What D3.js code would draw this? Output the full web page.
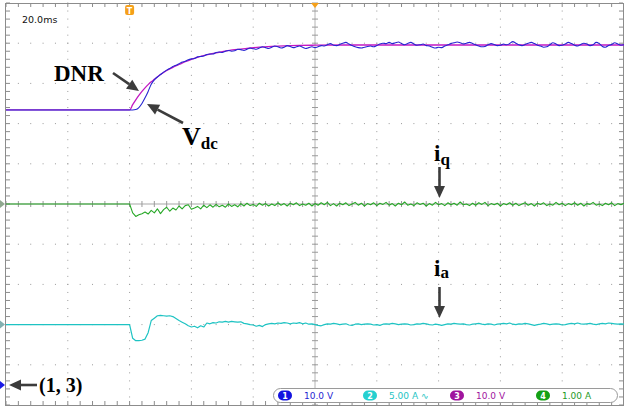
<!DOCTYPE html>
<html><head><meta charset="utf-8">
<script src="https://cdn.jsdelivr.net/npm/d3@7"></script>
<style>html,body{margin:0;padding:0;background:#fff;overflow:hidden}</style>
</head><body><svg id="c" width="624" height="409"></svg>
<script>
// ---------- data ----------
// time axis (ms): one point before the trigger, then 1 ms samples
const timeMs = [-100].concat(d3.range(-60, 101));
const timeDivTicks = [-100, -80, -60, -40, -20, 0, 20, 40, 60, 80, 100];
const vertDivTicks = [-5, -4, -3, -2, -1, 0, 1, 2, 3, 4, 5];

// Ch1 : Vdc (V), 10 V/div
const vdc = [68.4,
 68.4,68.4,68.5,69.0,70.0,71.4,73.0,74.8,75.9,76.6,
 77.2,77.8,78.3,78.7,79.2,79.5,79.9,80.3,80.5,80.9,
 81.1,81.2,81.6,81.7,81.8,82.2,82.3,82.3,82.7,82.8,
 82.7,83.0,83.2,83.0,83.1,83.5,83.4,83.2,83.5,83.8,
 83.6,83.5,83.8,84.1,83.9,83.7,84.0,84.3,84.1,83.8,
 84.0,84.4,84.2,83.9,84.1,84.3,84.0,83.7,83.9,84.1,
 83.9,84.1,84.4,84.3,84.6,84.9,84.5,84.4,84.7,85.0,
 85.2,84.8,84.4,84.1,83.9,83.8,84.0,84.2,84.3,84.1,
 84.4,84.8,85.0,84.9,85.2,84.9,85.1,85.3,84.9,84.6,
 84.9,85.2,84.8,84.5,84.6,84.8,84.4,84.3,84.0,83.8,
 84.0,83.9,84.3,84.6,84.9,85.1,85.3,85.1,84.8,85.0,
 85.2,84.9,84.6,84.3,84.1,84.2,84.6,84.9,84.7,84.4,
 84.5,84.8,84.6,84.9,85.4,85.0,84.6,84.4,84.7,85.0,
 85.2,84.9,84.5,84.3,84.0,84.1,84.6,85.1,84.8,84.4,
 84.5,84.8,85.2,84.9,84.5,84.3,84.7,85.0,84.8,84.4,
 84.6,85.2,84.9,84.2,84.0,84.4,84.7,85.1,84.8,84.5,
 84.6];

// Ch3 : DNR estimate (V), 10 V/div (smooth)
const dnrTime = [-100,-60,-59,-58,-57,-56,-55,-54,-53,-52,-50,-48,-46,-44,-42,-40,-37,-34,-30,-26,-22,-18,-14,-10,-5,0,10,100];
const dnrV    = [68.4,68.4,69.7,70.9,72.0,73.0,73.9,74.7,75.4,76.0,77.2,78.2,79.0,79.7,80.4,81.0,81.7,82.3,82.9,83.4,83.7,84.0,84.2,84.35,84.45,84.5,84.55,84.55];

// Ch4 : iq (A), 1 A/div
const iq = [0,
 0,-0.22,-0.31,-0.27,-0.24,-0.20,-0.25,-0.16,-0.22,-0.12,
 -0.24,-0.14,-0.08,-0.18,-0.10,-0.15,-0.05,-0.12,-0.04,-0.02,
 -0.13,-0.10,-0.06,-0.12,-0.03,-0.09,-0.02,-0.08,-0.01,-0.07,
 -0.03,-0.08,0.0,-0.06,-0.02,-0.07,0.01,-0.05,0.02,-0.04,
 -0.01,-0.06,0.02,-0.03,0.01,-0.05,0.0,-0.04,0.03,-0.03,
 0.01,-0.05,0.02,-0.02,0.03,-0.04,0.0,-0.03,0.02,-0.05,
 0.01,-0.03,0.03,-0.02,0.04,-0.04,0.01,-0.05,0.02,-0.02,
 0.03,-0.04,0.0,0.04,-0.03,0.02,-0.05,0.01,-0.02,0.03,
 -0.04,0.02,-0.01,0.04,-0.03,0.01,-0.05,0.02,-0.02,0.05,
 -0.03,0.0,-0.04,0.03,-0.01,0.02,-0.05,0.01,-0.03,0.04,
 -0.02,0.01,-0.04,0.03,-0.02,0.02,-0.03,0.05,-0.02,0.0,
 -0.04,0.02,-0.03,0.03,-0.01,0.04,-0.04,0.01,-0.02,0.02,
 -0.05,0.01,-0.02,0.03,-0.03,0.02,-0.04,0.0,0.03,-0.03,
 0.01,-0.05,0.02,-0.01,0.03,-0.04,0.0,-0.03,0.04,-0.02,
 0.02,-0.04,0.01,-0.02,0.03,-0.03,0.02,-0.05,0.01,-0.01,
 0.04,-0.03,0.0,-0.04,0.02,-0.02,0.03,-0.04,0.01,-0.02,
 0.02];

// Ch2 : ia (A), 5 A/div
const ia = [0,
 0,-1.7,-2.0,-2.0,-1.95,-1.8,-1.0,0.5,0.8,1.1,
 1.15,1.1,1.05,1.1,1.0,0.75,0.5,0.3,0.1,-0.15,
 -0.3,-0.2,-0.4,-0.15,-0.3,0.2,0.1,0.25,0.2,0.35,
 0.3,0.4,0.3,0.4,0.35,0.3,0.35,0.15,0.1,0.0,
 -0.05,-0.2,-0.1,-0.25,0.0,0.1,0.15,0.1,0.2,0.15,
 0.25,0.2,0.1,0.2,0.15,0.25,0.1,0.2,0.05,0.1,
 0.0,-0.1,-0.15,0.0,0.1,0.05,0.15,0.1,0.0,0.05,
 0.1,-0.05,-0.1,0.05,0.1,0.0,0.05,0.1,0.05,-0.05,
 0.0,-0.1,0.05,0.1,0.05,0.15,0.1,0.0,0.05,0.1,
 0.05,-0.05,0.0,0.1,0.05,0.15,0.1,0.0,-0.05,0.05,
 0.0,-0.1,0.0,0.1,0.05,0.15,0.1,0.05,0.1,0.0,
 -0.05,0.05,0.1,0.15,0.05,0.0,0.1,0.05,-0.05,0.05,
 0.1,0.15,0.1,0.2,0.05,0.0,0.1,0.05,0.15,0.1,
 0.0,-0.1,0.0,0.05,0.15,0.1,0.0,0.05,0.1,0.05,
 -0.05,0.0,0.1,0.15,0.1,0.2,0.1,0.05,0.1,0.15,
 0.05,0.0,0.1,0.15,0.1,0.2,0.15,0.1,0.05,0.1,
 0.05];

const legendNums  = ["1", "2", "3", "4"];
const legendTexts = ["10.0 V", "5.00 A \u223F", "10.0 V", "1.00 A"];
const timebaseLabel = "20.0ms";

// ---------- scales ----------
const L = 6, R = 624, T = 3, B = 405;
const x = d3.scaleLinear().domain([-100, 100]).range([L, R]);
const yDiv = d3.scaleLinear().domain([-5, 5]).range([B, T]);
const yCh1 = d3.scaleLinear().domain([-5, 95]).range([B, T]);   // ground at -4.5 div
const yCh3 = yCh1;
const yCh2 = d3.scaleLinear().domain([-10, 40]).range([B, T]);  // ground at -3 div
const yCh4 = d3.scaleLinear().domain([-5, 5]).range([B, T]);    // ground at 0 div

const col = {c1: "#2626d2", c2: "#1ec3c3", c3: "#c218c2", c4: "#27a827"};

const svg = d3.select("#c");
svg.append("rect").attr("width", 624).attr("height", 409).attr("fill", "#fff");

// ---------- graticule ----------
const g = svg.append("g");
const minorT = d3.range(-100, 100.01, 4);
const minorV = d3.range(-5, 5.001, 0.2);
timeDivTicks.slice(1, -1).forEach(t => {
  if (t === 0) return;
  minorV.forEach(v => g.append("rect").attr("x", x(t) - 0.5).attr("y", yDiv(v) - 0.5)
    .attr("width", 1).attr("height", 1).attr("fill", "#9a9a9a"));
});
vertDivTicks.slice(1, -1).forEach(v => {
  if (v === 0) return;
  minorT.forEach(t => g.append("rect").attr("x", x(t) - 0.5).attr("y", yDiv(v) - 0.5)
    .attr("width", 1).attr("height", 1).attr("fill", "#9a9a9a"));
});
g.append("line").attr("x1", x(0)).attr("x2", x(0)).attr("y1", T).attr("y2", B)
  .attr("stroke", "#b4b4b4").attr("stroke-width", 1);
g.append("line").attr("x1", L).attr("x2", R).attr("y1", yDiv(0)).attr("y2", yDiv(0))
  .attr("stroke", "#c4c4c4").attr("stroke-width", 1.5);
minorV.forEach(v => g.append("line").attr("x1", x(0) - 3).attr("x2", x(0) + 3)
  .attr("y1", yDiv(v)).attr("y2", yDiv(v)).attr("stroke", "#9a9a9a"));
minorT.forEach(t => g.append("line").attr("x1", x(t)).attr("x2", x(t))
  .attr("y1", yDiv(0) - 3).attr("y2", yDiv(0) + 3).attr("stroke", "#9a9a9a"));
g.append("rect").attr("x", L - 0.5).attr("y", T + 0.5).attr("width", R - L).attr("height", B - T)
  .attr("fill", "none").attr("stroke", "#8c8c8c").attr("stroke-width", 1);
minorV.forEach(v => {
  g.append("line").attr("x1", L).attr("x2", L + 4).attr("y1", yDiv(v)).attr("y2", yDiv(v)).attr("stroke", "#8c8c8c");
  g.append("line").attr("x1", R - 5).attr("x2", R - 1).attr("y1", yDiv(v)).attr("y2", yDiv(v)).attr("stroke", "#8c8c8c");
});
minorT.forEach(t => {
  g.append("line").attr("x1", x(t)).attr("x2", x(t)).attr("y1", T).attr("y2", T + 4).attr("stroke", "#8c8c8c");
  g.append("line").attr("x1", x(t)).attr("x2", x(t)).attr("y1", B - 4).attr("y2", B).attr("stroke", "#8c8c8c");
});

// ---------- traces ----------
const tr = svg.append("g").attr("fill", "none").attr("stroke-linejoin", "round");
function trace(times, vals, ys, color, w, curve) {
  const line = d3.line().x((d, i) => x(times[i])).y(d => ys(d)).curve(curve || d3.curveLinear);
  tr.append("path").datum(vals).attr("d", line).attr("stroke", color).attr("stroke-width", w);
}
trace(timeMs, ia, yCh2, col.c2, 1.2);
trace(timeMs, iq, yCh4, col.c4, 1.1);
trace(dnrTime, dnrV, yCh3, col.c3, 1.3, d3.curveMonotoneX);
trace(timeMs, vdc, yCh1, col.c1, 1.1, d3.curveMonotoneX);

// ---------- markers ----------
const trg = svg.append("g").attr("transform", `translate(${x(-60)},0)`);
trg.append("rect").attr("x", -4.5).attr("y", 5).attr("width", 9).attr("height", 10).attr("rx", 2).attr("fill", "#f5a01a");
trg.append("text").attr("x", 0).attr("y", 13.5).attr("text-anchor", "middle").attr("fill", "#fff")
  .attr("font-family", "DejaVu Sans").attr("font-size", 8).attr("font-weight", "bold").text("T");
svg.append("path").attr("d", `M${x(0) - 4},${T}L${x(0) + 4},${T}L${x(0)},${T + 5}Z`).attr("fill", "#f5a01a");
svg.append("path").attr("d", `M0,${yCh4(0) - 4}L5,${yCh4(0)}L0,${yCh4(0) + 4}Z`).attr("fill", "#8fa88f");
svg.append("path").attr("d", `M0,${yCh2(0) - 4}L5,${yCh2(0)}L0,${yCh2(0) + 4}Z`).attr("fill", "#83b0b0");
svg.append("path").attr("d", `M0,${yCh1(0) - 4}L5,${yCh1(0)}L0,${yCh1(0) + 4}Z`).attr("fill", "#1a1ae6");

svg.append("text").attr("x", 22).attr("y", 23).attr("font-family", "DejaVu Sans").attr("font-size", 9.5)
  .attr("fill", "#111").text(timebaseLabel);

// ---------- annotations ----------
const ann = svg.append("g").attr("font-family", "Liberation Serif, Times New Roman, serif").attr("font-weight", "bold").attr("fill", "#000");
function arrow(x1, y1, x2, y2) {
  const a = Math.atan2(y2 - y1, x2 - x1), hl = 12, hw = 5.5;
  const bx = x2 - hl * Math.cos(a), by = y2 - hl * Math.sin(a);
  ann.append("line").attr("x1", x1).attr("y1", y1).attr("x2", bx).attr("y2", by)
    .attr("stroke", "#3c3c3c").attr("stroke-width", 2.6);
  ann.append("path").attr("d", `M${x2},${y2}L${bx - hw * Math.sin(a)},${by + hw * Math.cos(a)}L${bx + hw * Math.sin(a)},${by - hw * Math.cos(a)}Z`)
    .attr("fill", "#3c3c3c");
}
ann.append("text").attr("x", 54).attr("y", 81).attr("font-size", 23).text("DNR");
arrow(113, 73, 139, 91);
const vt = ann.append("text").attr("x", 182).attr("y", 145).attr("font-size", 26);
vt.append("tspan").text("V");
vt.append("tspan").attr("font-size", 17).attr("dy", 4).text("dc");
arrow(183, 123, 147, 104);
const qt = ann.append("text").attr("x", 434).attr("y", 161).attr("font-size", 23);
qt.append("tspan").text("i");
qt.append("tspan").attr("font-size", 17).attr("dy", 4).text("q");
arrow(439.5, 167, 439.5, 198);
const at = ann.append("text").attr("x", 434).attr("y", 276).attr("font-size", 23);
at.append("tspan").text("i");
at.append("tspan").attr("font-size", 17).attr("dy", 2).text("a");
arrow(439.5, 287, 439.5, 318);
ann.append("text").attr("x", 39).attr("y", 392).attr("font-size", 20).text("(1, 3)");
arrow(37, 385, 9, 385);

// ---------- channel legend ----------
const lg = svg.append("g");
lg.append("rect").attr("x", 273.5).attr("y", 388.5).attr("width", 344).attr("height", 14).attr("rx", 7)
  .attr("fill", "#fff").attr("stroke", "#9a9a9a");
const pillX = [278, 363, 450, 536];
const legCols = [col.c1, col.c2, "#a0149e", "#1f9a1f"];
const pillCols = ["#1414e0", "#25d0d0", "#a0149e", "#14a014"];
legendNums.forEach((n, i) => {
  lg.append("rect").attr("x", pillX[i]).attr("y", 390.5).attr("width", 14).attr("height", 10).attr("rx", 5).attr("fill", pillCols[i]);
  lg.append("text").attr("x", pillX[i] + 7).attr("y", 398.8).attr("text-anchor", "middle").attr("fill", "#fff")
    .attr("font-family", "DejaVu Sans").attr("font-size", 8).attr("font-weight", "bold").text(n);
  lg.append("text").attr("x", pillX[i] + 26).attr("y", 399).attr("fill", legCols[i])
    .attr("font-family", "DejaVu Sans").attr("font-size", 9).text(legendTexts[i]);
});
</script></body></html>
